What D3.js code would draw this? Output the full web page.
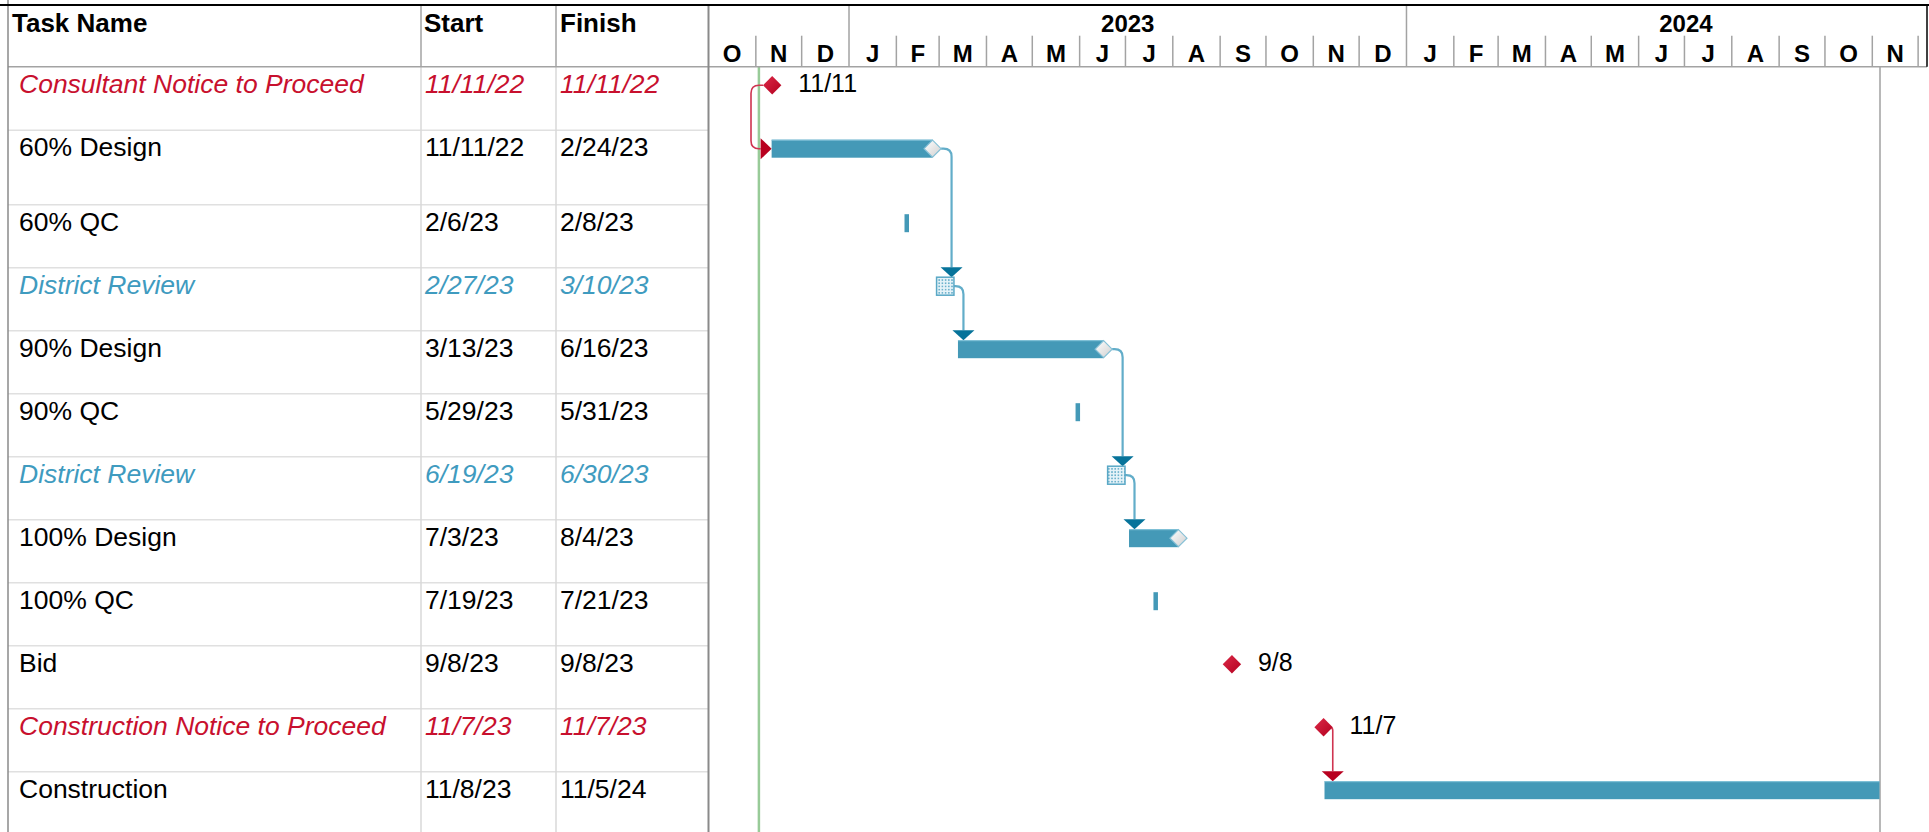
<!DOCTYPE html>
<html><head><meta charset="utf-8">
<script src="https://cdn.jsdelivr.net/npm/d3@7"></script>
<style>
body{margin:0;background:#fff;}
svg{display:block;}
text{font-family:"Liberation Sans",Arial,Helvetica,sans-serif;}
</style>
</head><body>
<svg id="chart" width="1929" height="832"></svg>
<script>
// ---------------- DATA ----------------
const taskNames = ["Consultant Notice to Proceed","60% Design","60% QC","District Review","90% Design","90% QC","District Review","100% Design","100% QC","Bid","Construction Notice to Proceed","Construction"];
const startDates = ["2022-11-11","2022-11-11","2023-02-06","2023-02-27","2023-03-13","2023-05-29","2023-06-19","2023-07-03","2023-07-19","2023-09-08","2023-11-07","2023-11-08"];
const finishDates = ["2022-11-11","2023-02-24","2023-02-08","2023-03-10","2023-06-16","2023-05-31","2023-06-30","2023-08-04","2023-07-21","2023-09-08","2023-11-07","2024-11-05"];
const taskKinds = ["milestone","design","qc","review","design","qc","review","design","qc","milestone","milestone","construction"];
const taskStyles = ["critical","normal","normal","review","normal","normal","review","normal","normal","normal","critical","normal"];
const linkFrom = [0,1,3,4,6,10];
const linkTo   = [1,3,4,6,7,11];
const columnHeaders = ["Task Name","Start","Finish"];
const statusDate = "2022-11-03";
const scaleStartDate = "2022-10-01";
const scaleRefDate = "2024-11-01";
const visibleEndDate = "2024-12-08";

// ---------------- LAYOUT ----------------
const W = 1929, H = 832;
const topY = 5, headerBottom = 66.7, tierY = 35.7;
const leftX = 8, colStartX = 421, colFinishX = 556, chartLeft = 708.5, chartRight = 1927;
const rowHeights = [63.5, 74.5, 63, 63, 63, 63, 63, 63, 63, 63, 63, 63];
const barOffset = 18.5, barH = 18, msHalf = 9.2, endDiaHalf = 8.5;
const textOffset = 26;
const fontSize = 26.5;

const colors = {
  red: "#c8102e", redLink: "#cf3450", redArrow: "#b8001f",
  blueText: "#3f9bbf", bar: "#4499b7", barTop: "#86c4da",
  link: "#62adc9", arrow: "#06739a",
  green: "#98cb98", finish: "#b8b8b8",
  rowLine: "#e0e0e0", colLine: "#d8d8d8", headLine: "#a3a3a3", border: "#8a8a8a"
};

const parse = d3.utcParse("%Y-%m-%d");
const fmtFull = d3.utcFormat("%-m/%-d/%y");
const fmtShort = d3.utcFormat("%-m/%-d");
const HOUR = 3600e3;

const tasks = taskNames.map((name, i) => {
  const s = parse(startDates[i]), f = parse(finishDates[i]);
  return {
    name, kind: taskKinds[i], style: taskStyles[i], s, f,
    s0: new Date(+s + (taskKinds[i] === "milestone" ? 17 : 8) * HOUR),
    f1: new Date(+f + 17 * HOUR)
  };
});

const rowTops = [];
rowHeights.reduce((acc, h) => { rowTops.push(acc); return acc + h; }, headerBottom);

const x = d3.scaleUtc().domain([parse(scaleStartDate), parse(scaleRefDate)]).range([chartLeft, 1872.3]);
const svg = d3.select("#chart");

// defs
const defs = svg.append("defs");
const pat = defs.append("pattern").attr("id","dots").attr("patternUnits","userSpaceOnUse")
  .attr("width",3.2).attr("height",3.2);
pat.append("rect").attr("width",3.2).attr("height",3.2).attr("fill","#e6f3f8");
pat.append("circle").attr("cx",1.6).attr("cy",1.6).attr("r",0.9).attr("fill","#5aa8c6");
const gWhite = defs.append("linearGradient").attr("id","gWhite").attr("x1","0").attr("y1","0").attr("x2","1").attr("y2","1");
gWhite.append("stop").attr("offset","0").attr("stop-color","#ffffff");
gWhite.append("stop").attr("offset","1").attr("stop-color","#cfcfcf");
const gRed = defs.append("linearGradient").attr("id","gRed").attr("x1","0").attr("y1","0").attr("x2","1").attr("y2","1");
gRed.append("stop").attr("offset","0").attr("stop-color","#dc2a48");
gRed.append("stop").attr("offset","1").attr("stop-color","#b3001f");

svg.append("rect").attr("width",W).attr("height",H).attr("fill","#fff");

// ---------- TABLE ----------
const table = svg.append("g");
table.selectAll(".rl").data(tasks).enter().append("line")
  .attr("x1", leftX).attr("x2", chartLeft)
  .attr("y1", (d,i) => rowTops[i] + rowHeights[i]).attr("y2", (d,i) => rowTops[i] + rowHeights[i])
  .attr("stroke", colors.rowLine).attr("stroke-width", 1.5);
[colStartX, colFinishX].forEach(cx => {
  table.append("line").attr("x1",cx).attr("x2",cx).attr("y1",headerBottom).attr("y2",H)
    .attr("stroke",colors.colLine).attr("stroke-width",1.5);
  table.append("line").attr("x1",cx).attr("x2",cx).attr("y1",topY).attr("y2",headerBottom)
    .attr("stroke",colors.headLine).attr("stroke-width",1.5);
});
const headerX = [12, colStartX + 3, colFinishX + 4];
columnHeaders.forEach((h, i) => {
  table.append("text").attr("x", headerX[i]).attr("y", 32).attr("font-size", 26)
    .attr("font-weight", "bold").attr("fill", "#000").text(h);
});
const textColor = d => d.style === "critical" ? colors.red : d.style === "review" ? colors.blueText : "#000";
const rows = table.selectAll(".row").data(tasks).enter().append("g");
const cellTexts = [d => d.name, d => fmtFull(d.s), d => fmtFull(d.f)];
const cellX = [19, colStartX + 4, colFinishX + 4];
cellTexts.forEach((fn, c) => {
  rows.append("text").attr("x", cellX[c]).attr("y", (d,i) => rowTops[i] + textOffset)
    .attr("font-size", fontSize).attr("fill", textColor)
    .attr("font-style", d => d.style === "normal" ? "normal" : "italic").text(fn);
});

// ---------- CHART LINES ----------
const chart = svg.append("g");
chart.append("line").attr("x1", x(parse(statusDate))).attr("x2", x(parse(statusDate)))
  .attr("y1", headerBottom).attr("y2", H).attr("stroke", colors.green).attr("stroke-width", 2.5);
const projFinish = d3.max(tasks, d => d.f1);
chart.append("line").attr("x1", x(projFinish) + 0.5).attr("x2", x(projFinish) + 0.5)
  .attr("y1", headerBottom).attr("y2", H).attr("stroke", colors.finish).attr("stroke-width", 2);

const cy = i => rowTops[i] + barOffset;

function rightEdge(d) {
  if (d.kind === "milestone") return x(d.s0) + msHalf;
  if (d.kind === "design") return x(d.f1) + endDiaHalf;
  return x(d.f1);
}

// ---------- LINKS ----------
const linkG = chart.append("g");
linkFrom.forEach((pi, k) => {
  const si = linkTo[k];
  const p = tasks[pi], s = tasks[si];
  const crit = p.style === "critical";
  const lc = crit ? colors.redLink : colors.link;
  const ac = crit ? colors.redArrow : colors.arrow;
  const y1 = cy(pi), y2 = cy(si);
  const sx = x(s.s0);
  const pr = rightEdge(p);
  if (+s.s > +p.f) {
    let vx, path, r;
    const arrowTip = y2 - barH / 2, arrowTop = arrowTip - 10;
    if (p.kind === "milestone") {
      vx = pr; r = 3;
      path = `M${x(p.s0)},${y1} H${vx - r} Q${vx},${y1} ${vx},${y1 + r} V${arrowTop}`;
    } else {
      vx = pr + (p.kind === "design" ? 10.5 : 9.5); r = 8;
      path = `M${pr},${y1} H${vx - r} Q${vx},${y1} ${vx},${y1 + r} V${arrowTop}`;
    }
    linkG.append("path").attr("d", path).attr("fill","none").attr("stroke", lc).attr("stroke-width", crit ? 1.6 : 2.2);
    linkG.append("path").attr("d", `M${vx - 11},${arrowTop} L${vx + 11},${arrowTop} L${vx},${arrowTip} Z`).attr("fill", ac);
  } else {
    const lx = x(p.s0) - msHalf, vx = lx - 12, r = 8;
    const base = sx - 11;
    const path = `M${lx},${y1} H${vx + r} Q${vx},${y1} ${vx},${y1 + r} V${y2 - r} Q${vx},${y2} ${vx + r},${y2} H${base}`;
    linkG.append("path").attr("d", path).attr("fill","none").attr("stroke", lc).attr("stroke-width", crit ? 1.6 : 2.2);
    linkG.append("path").attr("d", `M${base},${y2 - 10.5} L${base},${y2 + 10.5} L${sx},${y2} Z`).attr("fill", ac);
  }
});

// ---------- BARS ----------
const barG = chart.append("g");
tasks.forEach((d, i) => {
  const c = cy(i);
  if (d.kind === "milestone") {
    const mx = x(d.s0);
    barG.append("path").attr("d", `M${mx},${c - msHalf} L${mx + msHalf},${c} L${mx},${c + msHalf} L${mx - msHalf},${c} Z`)
      .attr("fill", "url(#gRed)");
    barG.append("text").attr("x", mx + 26).attr("y", rowTops[i] + textOffset - 0.5).attr("font-size", 25)
      .attr("fill", "#000").text(fmtShort(d.s));
  } else if (d.kind === "review") {
    barG.append("rect").attr("x", x(d.s0)).attr("y", c - barH / 2)
      .attr("width", x(d.f1) - x(d.s0)).attr("height", barH)
      .attr("fill", "url(#dots)").attr("stroke", "#5aa8c6").attr("stroke-width", 1.5);
  } else {
    const x0 = x(d.s0), x1 = x(d.f1);
    const w = Math.max(x1 - x0, 4.5);
    barG.append("rect").attr("x", x0).attr("y", c - barH / 2).attr("width", w).attr("height", barH)
      .attr("fill", colors.bar);
    if (d.kind !== "qc") {
      barG.append("line").attr("x1", x0).attr("x2", x0 + w).attr("y1", c - barH / 2 + 0.5).attr("y2", c - barH / 2 + 0.5)
        .attr("stroke", colors.barTop).attr("stroke-width", 1);
    }
    if (d.kind === "design") {
      barG.append("path").attr("d", `M${x1},${c - endDiaHalf} L${x1 + endDiaHalf},${c} L${x1},${c + endDiaHalf} L${x1 - endDiaHalf},${c} Z`)
        .attr("fill", "url(#gWhite)").attr("stroke", "#86c0d6").attr("stroke-width", 1.2);
    }
  }
});

// ---------- TIMESCALE HEADER ----------
const hdr = svg.append("g");
const months = d3.utcMonths(parse(scaleStartDate), parse(visibleEndDate));
months.forEach(m => {
  const mx = x(m);
  const isYear = m.getUTCMonth() === 0;
  if (mx > chartLeft + 1) {
    hdr.append("line").attr("x1", mx).attr("x2", mx).attr("y1", isYear ? topY : tierY).attr("y2", headerBottom)
      .attr("stroke", colors.headLine).attr("stroke-width", 1.5);
  }
  const next = d3.utcMonth.offset(m, 1);
  const center = (x(m) + x(next)) / 2;
  if (x(next) <= chartRight + 2) {
    hdr.append("text").attr("x", center).attr("y", 62).attr("text-anchor", "middle")
      .attr("font-size", 24).attr("font-weight", "bold").attr("fill", "#000")
      .text(d3.utcFormat("%b")(m)[0]);
  }
});
const years = d3.utcYears(d3.utcYear.floor(parse(scaleStartDate)), parse(visibleEndDate));
years.forEach(y => {
  const c = (x(y) + x(d3.utcYear.offset(y, 1))) / 2;
  if (c > chartLeft && c < chartRight) {
    hdr.append("text").attr("x", c).attr("y", 31.5).attr("text-anchor", "middle")
      .attr("font-size", 24).attr("font-weight", "bold").attr("fill", "#000")
      .text(d3.utcFormat("%Y")(y));
  }
});

// ---------- FRAME ----------
svg.append("line").attr("x1", leftX).attr("x2", chartRight).attr("y1", headerBottom).attr("y2", headerBottom)
  .attr("stroke", colors.headLine).attr("stroke-width", 1.5);
svg.append("line").attr("x1", chartLeft).attr("x2", chartLeft).attr("y1", topY).attr("y2", H)
  .attr("stroke", colors.border).attr("stroke-width", 2);
svg.append("line").attr("x1", leftX).attr("x2", leftX).attr("y1", 0).attr("y2", H)
  .attr("stroke", colors.border).attr("stroke-width", 1.5);
svg.append("line").attr("x1", chartRight).attr("x2", chartRight).attr("y1", topY).attr("y2", headerBottom)
  .attr("stroke", "#000").attr("stroke-width", 1.5);
svg.append("line").attr("x1", 0).attr("x2", W).attr("y1", topY).attr("y2", topY)
  .attr("stroke", "#000").attr("stroke-width", 2);
</script>
</body></html>
